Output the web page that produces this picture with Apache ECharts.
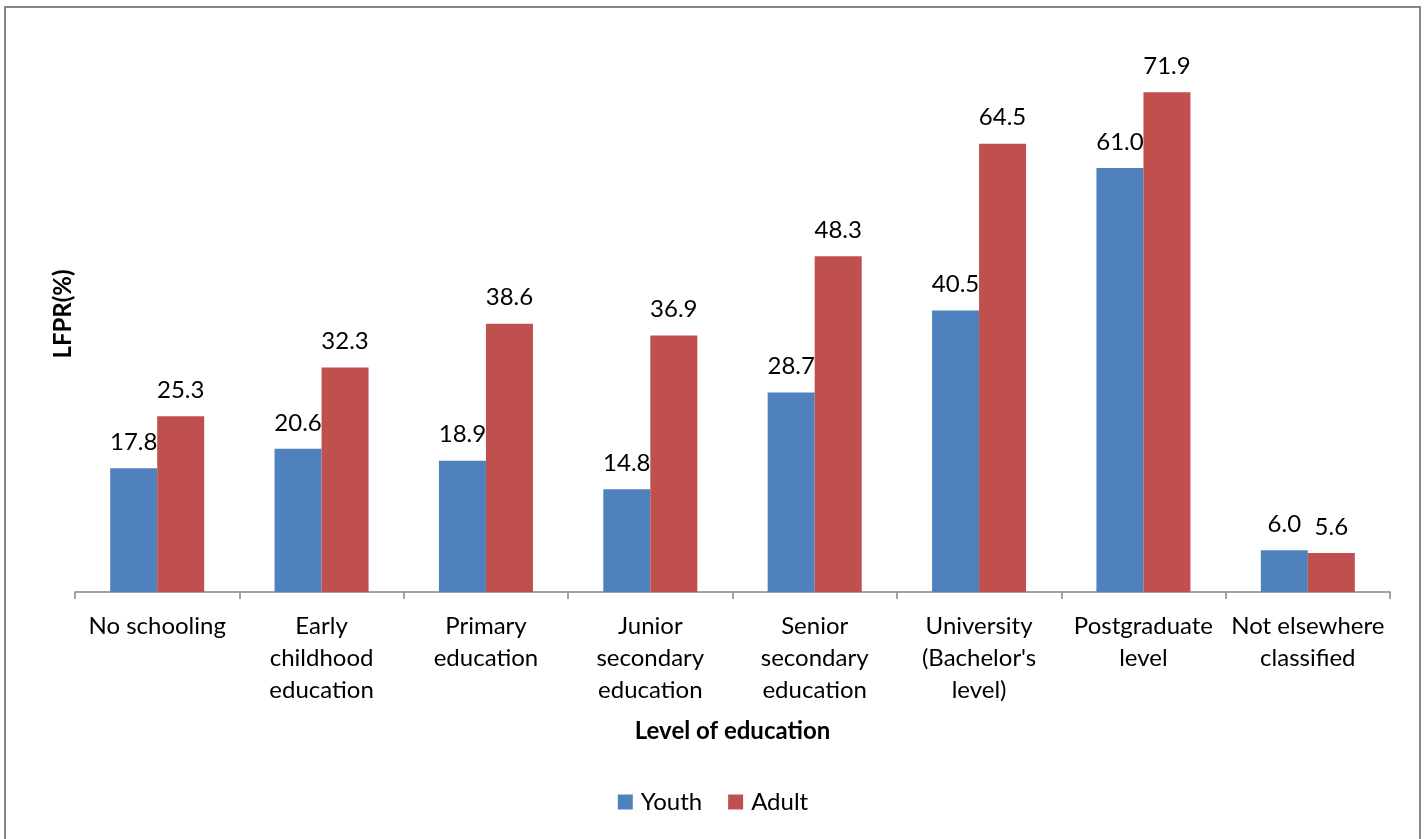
<!DOCTYPE html>
<html>
<head>
<meta charset="utf-8">
<script src="https://cdn.jsdelivr.net/npm/echarts@6/dist/echarts.min.js"></script>
<style>
  html, body { margin: 0; padding: 0; background: #fff; }
  #chart { width: 1426px; height: 839px; }
</style>
</head>
<body>
<div id="chart"></div>
<script>
// Labour force participation rate by level of education
const categories = [
  'No schooling',
  'Early\nchildhood\neducation',
  'Primary\neducation',
  'Junior\nsecondary\neducation',
  'Senior\nsecondary\neducation',
  "University\n(Bachelor's\nlevel)",
  'Postgraduate\nlevel',
  'Not elsewhere\nclassified'
];
const youth = [17.8, 20.6, 18.9, 14.8, 28.7, 40.5, 61.0, 6.0];
const adult = [25.3, 32.3, 38.6, 36.9, 48.3, 64.5, 71.9, 5.6];

const FONT = 'Lato, "Open Sans", sans-serif';
const FS = 24;
const chart = echarts.init(document.getElementById('chart'), null, { renderer: 'canvas' });

const labelStyle = {
  show: true,
  position: 'top',
  distance: 14,
  color: '#000',
  fontFamily: FONT,
  fontSize: FS,
  formatter: p => p.value.toFixed(1)
};

chart.setOption({
  backgroundColor: '#fff',
  animation: false,
  textStyle: { fontFamily: FONT },
  graphic: [{
    type: 'rect',
    shape: { x: 5, y: 7, width: 1415, height: 840 },
    style: { fill: 'none', stroke: '#878787', lineWidth: 2 },
    silent: true
  }],
  grid: { left: 75, right: 36, top: 36, bottom: 247, containLabel: false },
  legend: {
    bottom: 20,
    left: 'center',
    itemWidth: 15,
    itemHeight: 15,
    itemGap: 26,
    icon: 'rect',
    textStyle: { color: '#000', fontFamily: FONT, fontSize: FS, padding: [0, 0, 0, 3] },
    data: ['Youth', 'Adult']
  },
  xAxis: {
    type: 'category',
    data: categories,
    name: 'Level of education',
    nameLocation: 'middle',
    nameGap: 127,
    nameTextStyle: { color: '#000', fontFamily: FONT, fontSize: FS, fontWeight: 'bold' },
    axisLine: { lineStyle: { color: '#868686', width: 1.5 } },
    axisTick: { show: true, alignWithLabel: false, length: 7, lineStyle: { color: '#868686', width: 1.5 } },
    axisLabel: {
      interval: 0,
      margin: 18,
      color: '#000',
      fontFamily: FONT,
      fontSize: FS,
      lineHeight: 32,
      align: 'center'
    }
  },
  yAxis: {
    type: 'value',
    min: 0,
    max: 80,
    name: 'LFPR(%)',
    nameLocation: 'middle',
    nameRotate: 90,
    nameGap: 0,
    nameTextStyle: { color: '#000', fontFamily: FONT, fontSize: FS, fontWeight: 'bold' },
    axisLine: { show: false },
    axisTick: { show: false },
    axisLabel: { show: false },
    splitLine: { show: false }
  },
  series: [
    {
      name: 'Youth',
      type: 'bar',
      data: youth,
      barGap: '0%',
      barCategoryGap: '42.8%',
      itemStyle: { color: '#4F81BD' },
      label: labelStyle
    },
    {
      name: 'Adult',
      type: 'bar',
      data: adult,
      barGap: '0%',
      barCategoryGap: '42.8%',
      itemStyle: { color: '#C0504D' },
      label: labelStyle
    }
  ]
});
</script>
</body>
</html>
